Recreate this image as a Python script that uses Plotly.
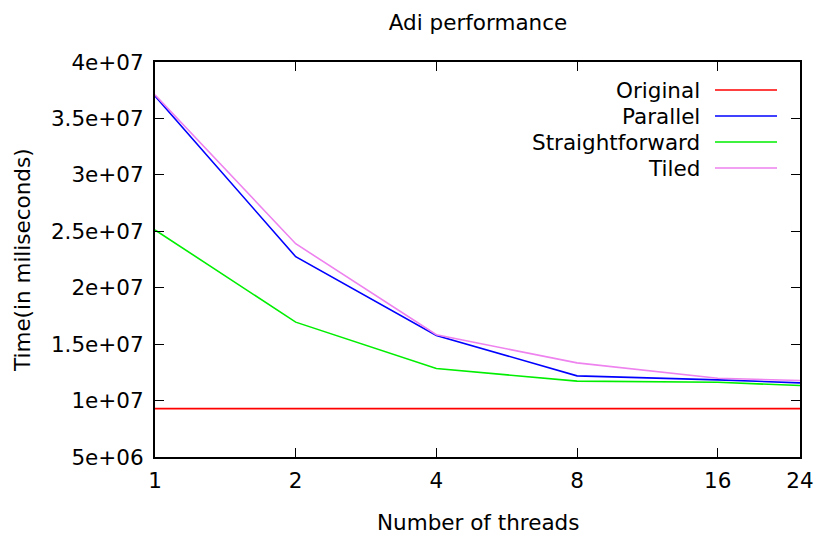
import plotly.graph_objects as go

# Thread counts on the x axis (log scale)
threads = [1, 2, 4, 8, 16, 24]

# Run times in milliseconds for each variant
original = [9.29e6, 9.29e6, 9.29e6, 9.29e6, 9.29e6, 9.29e6]
parallel = [3.698e7, 2.275e7, 1.577e7, 1.219e7, 1.183e7, 1.157e7]
straightforward = [2.512e7, 1.695e7, 1.284e7, 1.172e7, 1.163e7, 1.133e7]
tiled = [3.71e7, 2.39e7, 1.583e7, 1.334e7, 1.198e7, 1.178e7]

series_names = ["Original", "Parallel", "Straightforward", "Tiled"]
series_values = [original, parallel, straightforward, tiled]
series_colors = ["#ff0000", "#0000ff", "#00ee00", "#ee82ee"]

x_ticks = [1, 2, 4, 8, 16, 24]
y_ticks = [5e6, 1e7, 1.5e7, 2e7, 2.5e7, 3e7, 3.5e7, 4e7]
y_tick_labels = ["5e+06", "1e+07", "1.5e+07", "2e+07", "2.5e+07", "3e+07", "3.5e+07", "4e+07"]

FONT = "DejaVu Sans"
FS = 21.5

W, H = 815, 534
L, R, T, B = 155, 15, 62, 77
pw, ph = W - L - R, H - T - B


def px_x(p):
    return (p - L) / pw


def px_y(p):
    return 1 - (p - T) / ph


fig = go.Figure()
for name, vals, col in zip(series_names, series_values, series_colors):
    fig.add_trace(go.Scatter(x=threads, y=vals, mode="lines", name=name,
                             line=dict(color=col, width=1.6), showlegend=False))

# Key in the top-right corner: right-aligned labels followed by a line sample
row_h = 26
top = 90
for i, (name, col) in enumerate(zip(series_names, series_colors)):
    yy = top + i * row_h
    fig.add_annotation(x=px_x(702), y=px_y(yy), xref="paper", yref="paper", text=name,
                       showarrow=False, xanchor="right", yanchor="middle",
                       font=dict(family=FONT, size=FS, color="black"))
    fig.add_shape(type="line", xref="paper", yref="paper",
                  x0=px_x(715), x1=px_x(777), y0=px_y(yy), y1=px_y(yy),
                  line=dict(color=col, width=1.6))

# Axis titles placed explicitly
fig.add_annotation(x=px_x(478), y=px_y(522), xref="paper", yref="paper",
                   text="Number of threads", showarrow=False,
                   xanchor="center", yanchor="middle",
                   font=dict(family=FONT, size=FS, color="black"))
fig.add_annotation(x=px_x(22), y=px_y(260), xref="paper", yref="paper",
                   text="Time(in miliseconds)", showarrow=False, textangle=-90,
                   xanchor="center", yanchor="middle",
                   font=dict(family=FONT, size=FS, color="black"))

fig.update_layout(
    width=W, height=H,
    margin=dict(l=L, r=R, t=T, b=B, autoexpand=False),
    paper_bgcolor="white", plot_bgcolor="white",
    font=dict(family=FONT, size=FS, color="black"),
    title=dict(text="Adi performance", x=478 / W, xanchor="center",
               y=1 - 22 / H, yanchor="middle", font=dict(family=FONT, size=FS)),
)
fig.update_xaxes(
    type="log", range=[0, 1.380211], tickvals=x_ticks, ticktext=[str(t) for t in x_ticks],
    ticks="inside", ticklen=9, tickwidth=1.2, tickcolor="black",
    showline=True, linecolor="black", linewidth=2, mirror="ticks",
    showgrid=False, zeroline=False, automargin=False, ticklabelstandoff=3,
    tickfont=dict(family=FONT, size=FS),
)
fig.update_yaxes(
    range=[5e6, 4e7], tickvals=y_ticks, ticktext=y_tick_labels,
    ticks="inside", ticklen=9, tickwidth=1.2, tickcolor="black",
    showline=True, linecolor="black", linewidth=2, mirror="ticks",
    showgrid=False, zeroline=False, automargin=False, ticklabelstandoff=5,
    tickfont=dict(family=FONT, size=FS),
)

fig.write_html("out.html")
